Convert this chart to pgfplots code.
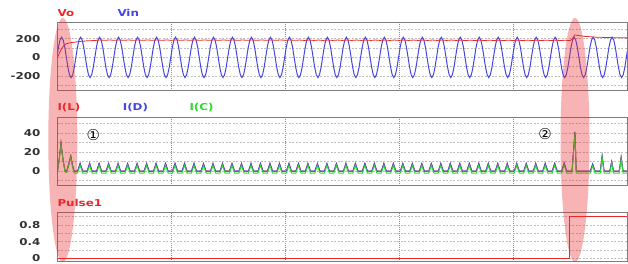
\documentclass[border=0pt]{standalone}
\usepackage{pgfplots}
\pgfplotsset{compat=1.18}
\usepackage{pgfplotstable}
\usepackage{fontspec}
\setmainfont{DejaVu Sans}
\newfontfamily\circfont{DejaVu Sans}
\definecolor{myred}{RGB}{235,40,40}
\definecolor{myblue}{RGB}{70,70,225}
\definecolor{mygreen}{RGB}{40,220,40}
\definecolor{boxgray}{RGB}{125,125,125}
\definecolor{hgray}{RGB}{190,190,190}
\definecolor{vgray}{RGB}{140,140,140}
\newcommand\sx[1]{\scalebox{1.25}[1]{#1}}
\newcommand\tickfont{\fontsize{9.5}{11}\selectfont\bfseries}

\pgfplotstableread[row sep=\\]{
x d c\\
0 0 0\\ 1.2 14 13\\ 2.2 29.5 28\\ 3.5 12 11\\ 4.8 0 -1\\ 5.8 0 -1.5\\ 7.2 8 6.5\\ 8.4 16 14.5\\ 9.5 6 4.5\\ 10.5 0 -2\\
12.7 0 -2\\ 14.3 8 6\\ 15.9 0 -2\\
18.7 0 -2\\ 20.3 8 6\\ 21.9 0 -2\\
24.7 0 -2\\ 26.3 8 6\\ 27.9 0 -2\\
30.7 0 -2\\ 32.3 8 6\\ 33.9 0 -2\\
36.7 0 -2\\ 38.3 8 6\\ 39.9 0 -2\\
42.7 0 -2\\ 44.3 8 6\\ 45.9 0 -2\\
48.7 0 -2\\ 50.3 8 6\\ 51.9 0 -2\\
54.7 0 -2\\ 56.3 8 6\\ 57.9 0 -2\\
60.7 0 -2\\ 62.3 8 6\\ 63.9 0 -2\\
66.7 0 -2\\ 68.3 8 6\\ 69.9 0 -2\\
72.7 0 -2\\ 74.3 8 6\\ 75.9 0 -2\\
78.7 0 -2\\ 80.3 8 6\\ 81.9 0 -2\\
84.7 0 -2\\ 86.3 8 6\\ 87.9 0 -2\\
90.7 0 -2\\ 92.3 8 6\\ 93.9 0 -2\\
96.7 0 -2\\ 98.3 8 6\\ 99.9 0 -2\\
102.7 0 -2\\ 104.3 8 6\\ 105.9 0 -2\\
108.7 0 -2\\ 110.3 8 6\\ 111.9 0 -2\\
114.7 0 -2\\ 116.3 8 6\\ 117.9 0 -2\\
120.7 0 -2\\ 122.3 8 6\\ 123.9 0 -2\\
126.7 0 -2\\ 128.3 8 6\\ 129.9 0 -2\\
132.7 0 -2\\ 134.3 8 6\\ 135.9 0 -2\\
138.7 0 -2\\ 140.3 8 6\\ 141.9 0 -2\\
144.7 0 -2\\ 146.3 8 6\\ 147.9 0 -2\\
150.7 0 -2\\ 152.3 8 6\\ 153.9 0 -2\\
156.7 0 -2\\ 158.3 8 6\\ 159.9 0 -2\\
162.7 0 -2\\ 164.3 8 6\\ 165.9 0 -2\\
168.7 0 -2\\ 170.3 8 6\\ 171.9 0 -2\\
174.7 0 -2\\ 176.3 8 6\\ 177.9 0 -2\\
180.7 0 -2\\ 182.3 8 6\\ 183.9 0 -2\\
186.7 0 -2\\ 188.3 8 6\\ 189.9 0 -2\\
192.7 0 -2\\ 194.3 8 6\\ 195.9 0 -2\\
198.7 0 -2\\ 200.3 8 6\\ 201.9 0 -2\\
204.7 0 -2\\ 206.3 8 6\\ 207.9 0 -2\\
210.7 0 -2\\ 212.3 8 6\\ 213.9 0 -2\\
216.7 0 -2\\ 218.3 8 6\\ 219.9 0 -2\\
222.7 0 -2\\ 224.3 8 6\\ 225.9 0 -2\\
228.7 0 -2\\ 230.3 8 6\\ 231.9 0 -2\\
234.7 0 -2\\ 236.3 8 6\\ 237.9 0 -2\\
240.7 0 -2\\ 242.3 8 6\\ 243.9 0 -2\\
246.7 0 -2\\ 248.3 8 6\\ 249.9 0 -2\\
252.7 0 -2\\ 254.3 8 6\\ 255.9 0 -2\\
258.7 0 -2\\ 260.3 8 6\\ 261.9 0 -2\\
264.7 0 -2\\ 266.3 8 6\\ 267.9 0 -2\\
270.7 0 -2\\ 272.3 8 6\\ 273.9 0 -2\\
276.7 0 -2\\ 278.3 8 6\\ 279.9 0 -2\\
282.7 0 -2\\ 284.3 8 6\\ 285.9 0 -2\\
288.7 0 -2\\ 290.3 8 6\\ 291.9 0 -2\\
294.7 0 -2\\ 296.3 8 6\\ 297.9 0 -2\\
300.7 0 -2\\ 302.3 8 6\\ 303.9 0 -2\\
306.7 0 -2\\ 308.3 8 6\\ 309.9 0 -2\\
312.7 0 -2\\ 314.3 8 6\\ 315.9 0 -2\\
318.7 0 -2\\ 320.3 8.5 6.5\\ 321.9 0 -2\\
325.2 0 -2\\ 326.1 19 17\\ 327.1 41 39\\ 327.9 0 -2\\
336.8 0 -2\\ 338.3 7.5 5.5\\ 339.8 0 -2\\
343.1 0 -2\\ 344.3 16 14\\ 345.5 0 -2\\
349.1 0 -2\\ 350.3 10 8\\ 351.5 0 -2\\
355.1 0 -2\\ 356.3 14.5 12.5\\ 357.5 0 -2\\
360 0 -2\\
}\currents

\pgfplotsset{
  panel/.style={
    scale only axis, width=569.5pt, anchor=south west,
    xmin=0, xmax=360, xtick={72,144,216,288}, xticklabels={},
    major tick length=0pt, minor tick length=0pt,
    axis line style={draw=boxgray, line width=0.9pt},
    xmajorgrids, ymajorgrids, yminorgrids,
    major grid style={draw=hgray, line width=0.6pt, dash pattern=on 2pt off 1.5pt},
    minor grid style={draw=hgray, line width=0.6pt, dash pattern=on 2pt off 1.5pt},
    x grid style={draw=vgray, line width=0.6pt, dash pattern=on 0.8pt off 1.2pt},
    yticklabel style={font=\tickfont, text=black!80, anchor=east, inner sep=0pt, xshift=-17pt},
  }
}

\begin{document}
\begin{tikzpicture}
\useasboundingbox (0,0) rectangle (628pt,263pt);

% top panel
\begin{axis}[panel, at={(57.5pt,172.3pt)}, height=68pt, ymin=-355, ymax=370,
  ytick={-200,0,200}, yticklabels={\sx{-200},\sx{0},\sx{200}}, minor ytick={-300,-100,100,300}]
\addplot[myblue, line width=1pt] table[row sep=\\, x expr=\coordindex-0.4, y=y]{
y\\
0\\108\\186\\215\\186\\108\\0\\-108\\-186\\-215\\-186\\-108\\
0\\108\\186\\215\\186\\108\\0\\-108\\-186\\-215\\-186\\-108\\
0\\108\\186\\215\\186\\108\\0\\-108\\-186\\-215\\-186\\-108\\
0\\108\\186\\215\\186\\108\\0\\-108\\-186\\-215\\-186\\-108\\
0\\108\\186\\215\\186\\108\\0\\-108\\-186\\-215\\-186\\-108\\
0\\108\\186\\215\\186\\108\\0\\-108\\-186\\-215\\-186\\-108\\
0\\108\\186\\215\\186\\108\\0\\-108\\-186\\-215\\-186\\-108\\
0\\108\\186\\215\\186\\108\\0\\-108\\-186\\-215\\-186\\-108\\
0\\108\\186\\215\\186\\108\\0\\-108\\-186\\-215\\-186\\-108\\
0\\108\\186\\215\\186\\108\\0\\-108\\-186\\-215\\-186\\-108\\
0\\108\\186\\215\\186\\108\\0\\-108\\-186\\-215\\-186\\-108\\
0\\108\\186\\215\\186\\108\\0\\-108\\-186\\-215\\-186\\-108\\
0\\108\\186\\215\\186\\108\\0\\-108\\-186\\-215\\-186\\-108\\
0\\108\\186\\215\\186\\108\\0\\-108\\-186\\-215\\-186\\-108\\
0\\108\\186\\215\\186\\108\\0\\-108\\-186\\-215\\-186\\-108\\
0\\108\\186\\215\\186\\108\\0\\-108\\-186\\-215\\-186\\-108\\
0\\108\\186\\215\\186\\108\\0\\-108\\-186\\-215\\-186\\-108\\
0\\108\\186\\215\\186\\108\\0\\-108\\-186\\-215\\-186\\-108\\
0\\108\\186\\215\\186\\108\\0\\-108\\-186\\-215\\-186\\-108\\
0\\108\\186\\215\\186\\108\\0\\-108\\-186\\-215\\-186\\-108\\
0\\108\\186\\215\\186\\108\\0\\-108\\-186\\-215\\-186\\-108\\
0\\108\\186\\215\\186\\108\\0\\-108\\-186\\-215\\-186\\-108\\
0\\108\\186\\215\\186\\108\\0\\-108\\-186\\-215\\-186\\-108\\
0\\108\\186\\215\\186\\108\\0\\-108\\-186\\-215\\-186\\-108\\
0\\108\\186\\215\\186\\108\\0\\-108\\-186\\-215\\-186\\-108\\
0\\108\\186\\215\\186\\108\\0\\-108\\-186\\-215\\-186\\-108\\
0\\108\\186\\215\\186\\108\\0\\-108\\-186\\-215\\-186\\-108\\
0\\108\\186\\215\\186\\108\\0\\-108\\-186\\-215\\-186\\-108\\
0\\108\\186\\215\\186\\108\\0\\-108\\-186\\-215\\-186\\-108\\
0\\108\\186\\215\\186\\108\\0\\-108\\-186\\-215\\-186\\-108\\
0\\108\\
};
\addplot[myred, line width=0.8pt] coordinates {
(0,0) (0.8,30) (1.6,62) (2.7,95) (3.8,122) (4.8,138) (6,148) (7.9,155) (10,161) (12,165) (14,170) (16.5,173) (18.5,176) (21,178) (24,181)
(27,186) (30,182) (33,186) (36,182) (39,186) (42,182) (45,186) (48,182) (51,186) (54,182) (57,186) (60,182) (63,186) (66,182) (69,186) (72,182)
(75,186) (78,182) (81,186) (84,182) (87,186) (90,182) (93,186) (96,182) (99,186) (102,182) (105,186) (108,182) (111,186) (114,182) (117,186) (120,182)
(123,186) (126,182) (129,186) (132,182) (135,186) (138,182) (141,186) (144,182) (147,186) (150,182)
(153,185) (156,181) (159,185) (162,181) (165,185) (168,181) (171,185) (174,181) (177,185) (180,181) (183,185) (186,181) (189,185) (192,181)
(195,185) (198,181) (201,185) (204,181) (207,185) (210,181) (213,185) (216,181) (219,185) (222,181) (225,185) (228,181) (231,185) (234,181)
(237,185) (240,181) (243,185) (246,181) (249,185) (252,181)
(255,184) (258,180) (261,184) (264,180) (267,184) (270,180) (273,184) (276,180) (279,184) (282,180) (285,184) (288,180) (291,184) (294,180)
(297,184) (300,180) (303,184) (306,180) (309,184) (312,180) (315,184) (318,180) (321,183) (324,179)
(325.5,200) (327,240) (328.5,236) (331,229) (334,223) (337,220) (340,216) (343,215) (346,212) (349,212) (352,210) (356,209) (360,208)
};
\end{axis}

% middle panel
\begin{axis}[panel, at={(57.5pt,77.3pt)}, height=68pt, ymin=-15.2, ymax=55.8,
  ytick={0,20,40}, yticklabels={\sx{0},\sx{20},\sx{40}}, minor ytick={-10,10,30,50}]
\addplot[myred, line width=0.9pt] table[x=x, y=d]{\currents};
\addplot[myblue, line width=0.9pt] table[x=x, y=d]{\currents};
\addplot[mygreen, line width=0.9pt] table[x=x, y=c]{\currents};
\end{axis}

% bottom panel
\begin{axis}[panel, at={(57.5pt,1.3pt)}, height=49pt, ymin=-0.08, ymax=1.095,
  ytick={0,0.4,0.8}, yticklabels={\sx{0},\sx{0.4},\sx{0.8}}, minor ytick={0.2,0.6,1.0}]
\addplot[myred, line width=1pt] coordinates {(0,0) (323.6,0) (323.6,1) (360,1)};
\end{axis}

% labels
\begin{scope}[every node/.style={anchor=west, inner sep=0pt, font=\tickfont}]
\node[text=myred] at (57.3pt,250.3pt) {\sx{Vo}};
\node[text=myblue] at (117.3pt,250.3pt) {\sx{Vin}};
\node[text=myred] at (57.3pt,155.3pt) {\sx{I(L)}};
\node[text=myblue] at (122.7pt,155.3pt) {\sx{I(D)}};
\node[text=mygreen] at (189.3pt,155.3pt) {\sx{I(C)}};
\node[text=myred] at (57.3pt,60.3pt) {\sx{Pulse1}};
\end{scope}
\node[inner sep=0pt, font=\circfont\fontsize{15}{16}\selectfont] at (93.3pt,128pt) {①};
\node[inner sep=0pt, font=\circfont\fontsize{15}{16}\selectfont] at (545pt,128.7pt) {②};

% highlight ellipses
\fill[myred, fill opacity=0.35] (62.8pt,123pt) ellipse [x radius=14.5pt, y radius=122pt];
\fill[myred, fill opacity=0.35] (575pt,123pt) ellipse [x radius=14.5pt, y radius=122pt];
\end{tikzpicture}
\end{document}
